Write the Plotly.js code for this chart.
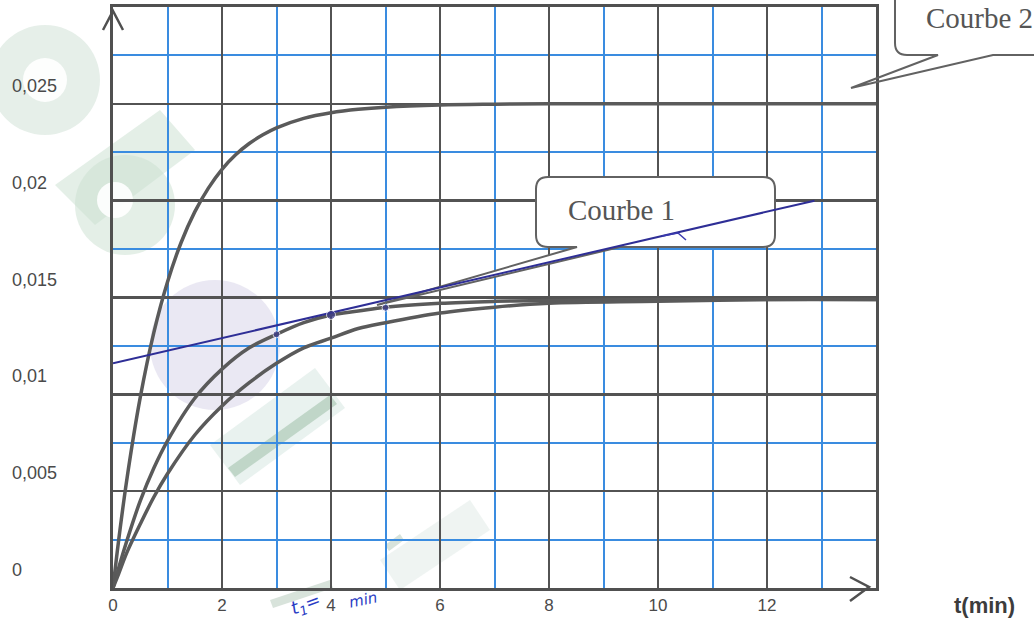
<!DOCTYPE html>
<html>
<head>
<meta charset="utf-8">
<script src="https://cdn.plot.ly/plotly-3.0.1.min.js"></script>
<style>html,body{margin:0;padding:0;background:#fff;}#chart{width:1034px;height:621px;}</style>
</head>
<body>
<div id="chart"></div>
<script>
// ---- data ----
const xTickVals = [0, 2, 4, 6, 8, 10, 12];
const xTickText = ['0', '2', '4', '6', '8', '10', '12'];
const yTickVals = [0, 0.005, 0.01, 0.015, 0.02, 0.025];
const yTickText = ['0', '0,005', '0,01', '0,015', '0,02', '0,025'];

// Courbe 2 (fast rise to 0.025)
const tCourbe2 = [0, 0.1, 0.25, 0.5, 0.75, 1, 1.25, 1.5, 1.75, 2, 2.25, 2.5, 2.75, 3, 3.5, 4, 4.5, 5, 6, 7, 8, 10, 12, 14];
const cCourbe2 = [0, 0.00238, 0.00553, 0.00984, 0.0132, 0.0158, 0.01784, 0.01942, 0.02065, 0.02162, 0.02237, 0.02295, 0.02340, 0.02376, 0.02425, 0.02454, 0.02472, 0.02483, 0.02494, 0.02498, 0.0250, 0.0250, 0.0250, 0.0250];

// Courbe 1 (middle curve, with the tangent)
const tCourbe1 = [0, 0.1, 0.25, 0.5, 0.75, 1, 1.5, 2, 2.5, 3, 3.5, 4, 4.5, 5, 6, 7, 8, 10, 12, 14];
const cCourbe1 = [0, 0.0010, 0.0024, 0.0045, 0.0062, 0.0076, 0.0098, 0.0113, 0.0124, 0.0131, 0.0137, 0.0141, 0.0143, 0.0145, 0.0147, 0.0148, 0.01485, 0.0149, 0.0149, 0.0149];

// lower curve
const tCourbe3 = [0, 0.1, 0.25, 0.5, 0.75, 1, 1.5, 2, 2.5, 3, 3.5, 4, 4.5, 5, 6, 7, 8, 10, 12, 14];
const cCourbe3 = [0, 0.0007, 0.0018, 0.0033, 0.0047, 0.0059, 0.0079, 0.0094, 0.0106, 0.0116, 0.0124, 0.0129, 0.0134, 0.0137, 0.0142, 0.0145, 0.0147, 0.0148, 0.0149, 0.0149];

// tangent to Courbe 1 at t1 = 4 min
const tTangent = [0, 12.87];
const cTangent = [0.0116, 0.0200];

// points marked on Courbe 1
const tPoints = [3, 4, 5];
const cPoints = [0.0131, 0.0141, 0.01447];
const pointSizes = [7, 9, 7];

// ---- geometry helpers for decorations ----
const L = 113, R = 158, T = 7, B = 33, W = 1034, H = 621;
const PW = W - L - R, PH = H - T - B;
const XMAX = 14, YMAX = 0.03;
const px = x => ((x - L) / PW).toFixed(5);
const py = y => ((H - B - y) / PH).toFixed(5);
const P = (x, y) => px(x) + ',' + py(y);
const D = (x, y) => ((x - L) / PW * XMAX).toFixed(5) + ',' + ((H - B - y) / PH * YMAX).toFixed(7);

const gridDark = '#535353';
const gridBlue = '#3a8ce0';
const curveCol = '#5a5a5a';
const inkBlue = '#2e2e96';

const traces = [
  {x: tCourbe2, y: cCourbe2, mode: 'lines', line: {color: curveCol, width: 3.5, shape: 'spline', smoothing: 1}, hoverinfo: 'skip'},
  {x: tCourbe1, y: cCourbe1, mode: 'lines', line: {color: curveCol, width: 3.5, shape: 'spline', smoothing: 1}, hoverinfo: 'skip'},
  {x: tCourbe3, y: cCourbe3, mode: 'lines', line: {color: curveCol, width: 3.5, shape: 'spline', smoothing: 1}, hoverinfo: 'skip'},
  {x: tTangent, y: cTangent, mode: 'lines', line: {color: inkBlue, width: 2}, cliponaxis: false, hoverinfo: 'skip'},
  {x: tPoints, y: cPoints, mode: 'markers', marker: {color: '#3b3a8c', size: pointSizes}, cliponaxis: false, hoverinfo: 'skip'}
];

// Courbe 1 callout (in data space so it can sit between grid and traces)
const c1 = 'M' + D(763, 247) + ' L' + D(620, 247) + ' L' + D(377, 305) + ' L' + D(577, 247) +
  ' L' + D(548, 247) + ' Q' + D(536, 247) + ' ' + D(536, 235) + ' L' + D(536, 189) +
  ' Q' + D(536, 177) + ' ' + D(548, 177) + ' L' + D(763, 177) + ' Q' + D(775, 177) + ' ' + D(775, 189) +
  ' L' + D(775, 235) + ' Q' + D(775, 247) + ' ' + D(763, 247) + ' Z';
// Courbe 2 callout (partially outside the picture)
const c2 = 'M' + P(1040, 55) + ' L' + P(993, 55) + ' L' + P(851, 88) + ' L' + P(938, 55) +
  ' L' + P(907, 55) + ' Q' + P(895, 55) + ' ' + P(895, 43) + ' L' + P(895, -5);

const wm = (path, color, op) => ({type: 'path', xref: 'paper', yref: 'paper', path: path, fillcolor: color, opacity: op, line: {width: 0}, layer: 'below'});
const poly = pts => 'M' + pts.map(p => P(p[0], p[1])).join(' L') + ' Z';
const circ = (cx, cy, r) => ({type: 'circle', xref: 'paper', yref: 'paper', x0: px(cx - r), x1: px(cx + r), y0: py(cy + r), y1: py(cy - r)});

const shapes = [
  // faint watermark blobs on the left
  Object.assign(circ(45, 80, 55), {fillcolor: '#c7dccf', opacity: 0.45, line: {width: 0}, layer: 'below'}),
  Object.assign(circ(45, 80, 22), {fillcolor: '#ffffff', opacity: 0.9, line: {width: 0}, layer: 'below'}),
  wm(poly([[55, 185], [160, 110], [195, 150], [95, 225]]), '#c9dfd0', 0.5),
  Object.assign(circ(125, 205, 50), {fillcolor: '#c9dfd0', opacity: 0.5, line: {width: 0}, layer: 'below'}),
  Object.assign(circ(115, 200, 18), {fillcolor: '#ffffff', opacity: 0.9, line: {width: 0}, layer: 'below'}),
  Object.assign(circ(215, 345, 65), {fillcolor: '#d5d1e8', opacity: 0.5, line: {width: 0}, layer: 'below'}),
  wm(poly([[210, 445], [315, 368], [345, 408], [240, 485]]), '#d7e8e2', 0.55),
  wm(poly([[228, 468], [330, 395], [337, 404], [235, 477]]), '#9fbfa8', 0.55),
  wm(poly([[380, 560], [470, 500], [490, 530], [400, 590]]), '#dfe9e6', 0.5),
  wm(poly([[270, 600], [330, 580], [333, 588], [273, 608]]), '#a9c2b0', 0.45),
  wm(poly([[385, 545], [400, 534], [404, 540], [389, 551]]), '#a9c2b0', 0.45),
  // callouts
  {type: 'path', xref: 'x', yref: 'y', path: c1, fillcolor: '#ffffff', line: {color: '#626262', width: 2}, layer: 'between'},
  {type: 'path', xref: 'paper', yref: 'paper', path: c2, line: {color: '#626262', width: 2}, layer: 'above'},
  // small hand-drawn mark on the tangent
  {type: 'path', xref: 'paper', yref: 'paper', path: 'M' + P(662, 236) + ' L' + P(678, 233) + ' L' + P(686, 240), line: {color: '#3a3ab0', width: 1.5}, layer: 'above'},
  // axis arrowheads
  {type: 'path', xref: 'paper', yref: 'paper', path: 'M' + P(103, 30) + ' L' + P(113, 11) + ' L' + P(123, 30), line: {color: '#505050', width: 2.5}, layer: 'above'},
  {type: 'path', xref: 'paper', yref: 'paper', path: 'M' + P(850, 577) + ' L' + P(869, 587) + ' L' + P(850, 601), line: {color: '#505050', width: 2.5}, layer: 'above'}
];

const annotations = [];
yTickVals.forEach((v, i) => {
  annotations.push({xref: 'paper', yref: 'y', x: px(10), y: v, yshift: 18, xanchor: 'left', yanchor: 'middle',
    text: yTickText[i], showarrow: false, font: {family: 'Liberation Sans, Arial, sans-serif', size: 18, color: '#4a4a4a'}});
});
annotations.push({xref: 'paper', yref: 'paper', x: px(952), y: py(605), xanchor: 'left', yanchor: 'middle',
  text: '<b>t(min)</b>', showarrow: false, font: {family: 'Liberation Sans, Arial, sans-serif', size: 22, color: '#3c3c3c'}});
annotations.push({xref: 'paper', yref: 'paper', x: px(622), y: py(210), xanchor: 'center', yanchor: 'middle',
  text: 'Courbe 1', showarrow: false, font: {family: 'Liberation Serif, Times New Roman, serif', size: 29, color: '#555555'}});
annotations.push({xref: 'paper', yref: 'paper', x: px(924), y: py(18), xanchor: 'left', yanchor: 'middle',
  text: 'Courbe 2', showarrow: false, font: {family: 'Liberation Serif, Times New Roman, serif', size: 29, color: '#555555'}});
annotations.push({xref: 'paper', yref: 'paper', x: px(306), y: py(605), xanchor: 'center', yanchor: 'middle', textangle: -20,
  text: '<i>t<sub>1</sub>=</i>', showarrow: false, font: {family: 'DejaVu Sans, sans-serif', size: 18, color: '#2a3cc4'}});
annotations.push({xref: 'paper', yref: 'paper', x: px(363), y: py(600), xanchor: 'center', yanchor: 'middle', textangle: -12,
  text: '<i>min</i>', showarrow: false, font: {family: 'DejaVu Sans, sans-serif', size: 15, color: '#2a3cc4'}});

const layout = {
  width: W, height: H,
  margin: {l: L, r: R, t: T, b: B, pad: 0},
  paper_bgcolor: '#ffffff', plot_bgcolor: 'rgba(0,0,0,0)',
  showlegend: false,
  xaxis: {
    range: [0, XMAX], tickmode: 'array', tickvals: xTickVals, ticktext: xTickText, ticks: '',
    showgrid: true, gridcolor: gridDark, gridwidth: 2.5,
    minor: {tickmode: 'linear', tick0: 0, dtick: 1, showgrid: true, gridcolor: gridBlue, gridwidth: 2, ticks: ''},
    showline: true, mirror: true, linecolor: '#505050', linewidth: 3, zeroline: false,
    tickfont: {family: 'Liberation Sans, Arial, sans-serif', size: 17, color: '#4a4a4a'}, fixedrange: true
  },
  yaxis: {
    range: [0, YMAX], tickmode: 'array', tickvals: yTickVals, showticklabels: false, ticks: '',
    showgrid: true, gridcolor: gridDark, gridwidth: 2.5,
    minor: {tickmode: 'linear', tick0: 0, dtick: 0.0025, showgrid: true, gridcolor: gridBlue, gridwidth: 2, ticks: ''},
    showline: true, mirror: true, linecolor: '#505050', linewidth: 3, zeroline: false, fixedrange: true
  },
  shapes: shapes,
  annotations: annotations
};

Plotly.newPlot('chart', traces, layout, {displayModeBar: false, staticPlot: true});
</script>
</body>
</html>
